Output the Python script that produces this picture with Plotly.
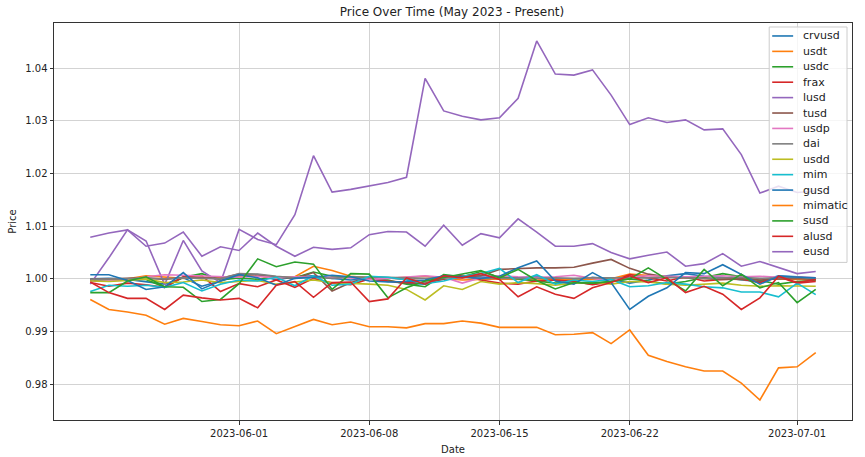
import pandas as pd
import plotly.graph_objects as go

dates = pd.date_range("2023-05-24", "2023-07-02", freq="D")

names = ["crvusd", "usdt", "usdc", "frax", "lusd", "tusd", "usdp", "dai", "usdd",
         "mim", "gusd", "mimatic", "susd", "alusd", "eusd"]

crvusd = [1.0000, 1.0001, 0.9999, 0.9994, 0.9990, 1.0002, 0.9986, 0.9996, 1.0006, 1.0008,
          0.9998, 1.0004, 1.0006, 1.0001, 0.9998, 1.0000, 0.9995, 0.9992, 0.9990, 1.0002,
          1.0004, 1.0006, 1.0004, 1.0002, 1.0005, 0.9998, 0.9995, 1.0003, 1.0000, 0.9992,
          0.9998, 1.0006, 1.0010, 1.0005, 1.0003, 0.9998, 0.9995, 1.0006, 1.0004, 0.9999]
usdt = [0.9997, 0.9998, 1.0000, 1.0006, 1.0004, 1.0001, 1.0003, 1.0002, 1.0006, 1.0005,
        1.0002, 1.0004, 1.0024, 1.0016, 1.0005, 1.0002, 1.0001, 1.0003, 1.0005, 1.0001,
        0.9998, 0.9999, 1.0000, 0.9999, 0.9998, 0.9999, 1.0000, 0.9999, 1.0000, 1.0009,
        1.0006, 1.0004, 1.0002, 1.0001, 1.0000, 0.9999, 0.9998, 1.0000, 0.9999, 0.9998]
usdc = [0.9998, 0.9996, 1.0000, 0.9999, 0.9984, 1.0003, 1.0010, 0.9998, 1.0002, 0.9999,
        1.0004, 1.0002, 1.0013, 1.0005, 1.0003, 1.0000, 0.9998, 0.9990, 0.9985, 1.0008,
        1.0004, 1.0014, 1.0003, 1.0000, 0.9996, 0.9992, 0.9994, 0.9990, 0.9996, 1.0000,
        0.9996, 0.9990, 0.9995, 1.0002, 1.0010, 1.0004, 0.9997, 0.9990, 0.9995, 0.9997]
frax = [0.9993, 0.9986, 0.9992, 0.9989, 0.9984, 1.0004, 1.0006, 0.9976, 0.9991, 0.9985,
        0.9998, 0.9984, 1.0001, 0.9992, 0.9989, 1.0000, 0.9996, 0.9993, 0.9992, 0.9999,
        1.0007, 0.9998, 0.9992, 0.9990, 0.9996, 0.9998, 0.9995, 0.9989, 0.9994, 1.0008,
        1.0002, 0.9996, 1.0004, 0.9996, 0.9999, 1.0000, 0.9993, 1.0004, 0.9992, 0.9995]
lusd = [0.9990, 1.0040, 1.0093, 1.0072, 0.9989, 1.0073, 1.0015, 0.9993, 1.0094, 1.0075,
        1.0065, 1.0122, 1.0234, 1.0165, 1.0170, 1.0176, 1.0183, 1.0193, 1.0381, 1.0319,
        1.0309, 1.0302, 1.0306, 1.0343, 1.0452, 1.0389, 1.0387, 1.0397, 1.0349, 1.0293,
        1.0306, 1.0297, 1.0302, 1.0283, 1.0285, 1.0236, 1.0163, 1.0176, 1.0164, 1.0167]
tusd = [0.9999, 1.0000, 1.0001, 1.0002, 0.9999, 1.0003, 1.0002, 1.0001, 1.0009, 1.0008,
        1.0004, 1.0001, 1.0012, 0.9977, 0.9993, 1.0003, 1.0002, 0.9999, 0.9996, 1.0000,
        1.0003, 1.0006, 1.0018, 1.0020, 1.0021, 1.0021, 1.0022, 1.0030, 1.0037, 1.0020,
        1.0009, 1.0004, 1.0002, 1.0001, 0.9999, 1.0000, 0.9998, 1.0000, 1.0001, 0.9999]
usdp = [0.9995, 0.9997, 0.9998, 1.0004, 1.0008, 1.0007, 1.0006, 1.0004, 1.0003, 1.0005,
        1.0002, 1.0004, 1.0004, 1.0003, 1.0002, 0.9999, 1.0001, 1.0004, 1.0006, 1.0003,
        0.9992, 1.0002, 1.0006, 1.0004, 1.0003, 1.0004, 1.0007, 1.0001, 0.9996, 1.0004,
        1.0006, 1.0005, 1.0004, 1.0005, 1.0006, 1.0004, 1.0005, 1.0003, 1.0004, 1.0002]
dai = [0.9999, 1.0000, 1.0000, 1.0001, 1.0000, 1.0002, 1.0001, 1.0000, 1.0010, 1.0009,
       1.0005, 1.0002, 1.0003, 1.0001, 1.0004, 1.0004, 1.0003, 1.0002, 1.0001, 1.0002,
       1.0003, 1.0001, 1.0001, 1.0000, 1.0001, 1.0002, 1.0001, 1.0002, 1.0002, 1.0001,
       1.0002, 1.0003, 1.0002, 1.0001, 1.0002, 1.0003, 1.0001, 1.0002, 1.0003, 1.0001]
usdd = [0.9996, 0.9995, 0.9997, 1.0000, 0.9993, 0.9994, 0.9998, 0.9993, 0.9995, 0.9997,
        0.9990, 0.9994, 0.9998, 0.9993, 0.9992, 0.9990, 0.9988, 0.9980, 0.9960, 0.9987,
        0.9980, 0.9995, 0.9990, 0.9993, 0.9991, 0.9988, 0.9992, 0.9994, 0.9990, 0.9995,
        0.9994, 0.9990, 0.9988, 0.9990, 0.9992, 0.9988, 0.9986, 0.9987, 0.9986, 0.9986]
mim = [0.9976, 0.9988, 0.9986, 0.9988, 0.9984, 0.9993, 0.9977, 0.9990, 0.9998, 0.9996,
       1.0003, 0.9987, 1.0006, 0.9988, 0.9990, 1.0005, 1.0003, 0.9998, 0.9991, 0.9996,
       1.0005, 1.0010, 1.0020, 0.9993, 1.0008, 0.9990, 0.9998, 0.9995, 0.9999, 0.9985,
       0.9987, 0.9993, 0.9990, 0.9985, 0.9983, 0.9975, 0.9975, 0.9966, 0.9992, 0.9970]
gusd = [1.0008, 1.0008, 0.9997, 0.9980, 0.9985, 1.0012, 0.9981, 0.9996, 1.0008, 1.0002,
        0.9988, 1.0001, 1.0003, 1.0007, 1.0004, 0.9996, 0.9994, 0.9995, 0.9998, 1.0006,
        1.0004, 1.0001, 1.0005, 1.0021, 1.0034, 0.9996, 0.9990, 1.0012, 0.9993, 0.9942,
        0.9967, 0.9983, 1.0012, 1.0010, 1.0027, 1.0008, 0.9990, 1.0005, 1.0003, 1.0002]
mimatic = [0.9961, 0.9942, 0.9937, 0.9931, 0.9914, 0.9925, 0.9919, 0.9913, 0.9911, 0.9920,
           0.9896, 0.9909, 0.9923, 0.9913, 0.9918, 0.9909, 0.9909, 0.9907, 0.9915, 0.9915,
           0.9920, 0.9916, 0.9908, 0.9908, 0.9908, 0.9894, 0.9895, 0.9898, 0.9877, 0.9903,
           0.9855, 0.9843, 0.9833, 0.9825, 0.9825, 0.9802, 0.9770, 0.9831, 0.9833, 0.9860]
susd = [0.9974, 0.9974, 0.9996, 1.0004, 0.9985, 0.9984, 0.9957, 0.9961, 0.9991, 1.0038,
        1.0023, 1.0032, 1.0028, 0.9980, 1.0010, 1.0009, 0.9964, 0.9983, 0.9996, 1.0003,
        1.0010, 1.0016, 1.0002, 1.0018, 0.9997, 0.9981, 0.9993, 0.9992, 0.9995, 1.0000,
        1.0021, 0.9999, 0.9977, 1.0018, 0.9987, 1.0009, 0.9983, 0.9993, 0.9955, 0.9980]
alusd = [0.9994, 0.9974, 0.9963, 0.9963, 0.9942, 0.9969, 0.9964, 0.9960, 0.9963, 0.9945,
         0.9988, 0.9995, 0.9965, 0.9993, 0.9994, 0.9957, 0.9962, 1.0002, 0.9990, 1.0006,
         1.0002, 1.0010, 0.9999, 0.9966, 0.9985, 0.9971, 0.9963, 0.9983, 0.9993, 1.0006,
         0.9993, 1.0002, 0.9974, 0.9986, 0.9971, 0.9942, 0.9964, 1.0005, 0.9993, 0.9999]
eusd = [1.0079, 1.0087, 1.0093, 1.0062, 1.0068, 1.0089, 1.0043, 1.0061, 1.0054, 1.0087,
        1.0062, 1.0043, 1.0060, 1.0056, 1.0059, 1.0084, 1.0090, 1.0089, 1.0062, 1.0102,
        1.0064, 1.0086, 1.0078, 1.0114, 1.0089, 1.0062, 1.0062, 1.0067, 1.0050, 1.0038,
        1.0045, 1.0051, 1.0024, 1.0029, 1.0048, 1.0024, 1.0033, 1.0021, 1.0010, 1.0014]

series = [crvusd, usdt, usdc, frax, lusd, tusd, usdp, dai, usdd, mim, gusd, mimatic, susd, alusd, eusd]

tab10 = ["#1f77b4", "#ff7f0e", "#2ca02c", "#d62728", "#9467bd",
         "#8c564b", "#e377c2", "#7f7f7f", "#bcbd22", "#17becf"]

xtick_vals = ["2023-06-01", "2023-06-08", "2023-06-15", "2023-06-22", "2023-07-01"]
ytick_vals = [0.98, 0.99, 1.00, 1.01, 1.02, 1.03, 1.04]
ytick_text = ["0.98", "0.99", "1.00", "1.01", "1.02", "1.03", "1.04"]

fig = go.Figure()
for i, (nm, vals) in enumerate(zip(names, series)):
    fig.add_trace(go.Scatter(x=dates, y=vals, mode="lines", name=nm,
                             line=dict(color=tab10[i % 10], width=1.6),
                             showlegend=False))

W, H = 865, 466
L, R, T, B = 52, 852, 23, 421
pw, ph = R - L, B - T

def px(x):
    return (x - L) / pw

def py(y):
    return (B - y) / ph

# custom legend (matplotlib-like)
shapes = [dict(type="rect", xref="paper", yref="paper",
               x0=px(769), x1=px(847), y0=py(263), y1=py(27),
               fillcolor="rgba(255,255,255,0.8)", line=dict(color="#cccccc", width=1),
               layer="above")]
annotations = []
for i, nm in enumerate(names):
    yy = 36 + 15.45 * i
    shapes.append(dict(type="line", xref="paper", yref="paper",
                       x0=px(772), x1=px(793), y0=py(yy), y1=py(yy),
                       line=dict(color=tab10[i % 10], width=1.6), layer="above"))
    annotations.append(dict(xref="paper", yref="paper", x=px(801), y=py(yy),
                            text=nm, showarrow=False, xanchor="left", yanchor="middle",
                            font=dict(size=11, color="#222222")))

axis_common = dict(showline=True, mirror=True, linecolor="#333333", linewidth=1,
                   ticks="outside", ticklen=3.5, tickcolor="#333333",
                   showgrid=True, gridcolor="#d3d3d3", gridwidth=1, zeroline=False,
                   tickfont=dict(size=10, color="#222222"))

fig.update_layout(
    width=W, height=H, autosize=False,
    margin=dict(l=L, r=W - R, t=T, b=H - B, pad=0),
    paper_bgcolor="white", plot_bgcolor="white",
    font=dict(family="DejaVu Sans", color="#222222"),
    title=dict(text="Price Over Time (May 2023 - Present)", x=(452) / W,
               xanchor="center", y=1 - 12 / H, yanchor="middle",
               font=dict(size=12, color="#222222")),
    xaxis=dict(type="date", range=["2023-05-22 01:12", "2023-07-03 22:48"],
               tickvals=xtick_vals, ticktext=xtick_vals,
               title=dict(text="Date", font=dict(size=10), standoff=8), **axis_common),
    yaxis=dict(range=[0.9732, 1.0486], tickvals=ytick_vals, ticktext=ytick_text,
               title=dict(text="Price", font=dict(size=10), standoff=6), **axis_common),
    shapes=shapes, annotations=annotations,
)

fig.write_html("out.html", config={"displayModeBar": False},
               post_script="document.body.style.margin='0';")
